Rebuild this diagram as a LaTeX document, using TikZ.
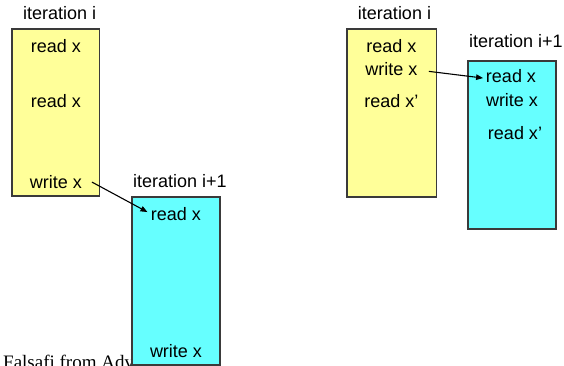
\documentclass[tikz,border=0pt]{standalone}
\usepackage{fontspec}
\setmainfont{Liberation Sans}
\newfontfamily\serifcredit{Liberation Serif}
\usetikzlibrary{arrows.meta}
\definecolor{iterA}{HTML}{FFFF99}
\definecolor{iterB}{HTML}{66FFFF}
\definecolor{boxline}{HTML}{3A3A3A}
\tikzset{
  lbl/.style={anchor=base, inner sep=0pt, font=\fontsize{18}{20}\selectfont},
  iterbox/.style={draw=boxline, line width=1.3pt},
  oldit/.style={iterbox, fill=iterA},
  newit/.style={iterbox, fill=iterB},
  dep/.style={line width=1.1pt, -{Triangle[length=7pt,width=5.5pt]}},
}
\begin{document}
\begin{tikzpicture}[x=1pt, y=-1pt]
\useasboundingbox (0,0) rectangle (564,366);
\clip (0,0) rectangle (564,366);

% credit line, running off the bottom edge and partly hidden behind the second box
\node[anchor=base west, inner sep=0pt, font=\serifcredit\fontsize{19}{21}\selectfont]
  (credit) at (3,368.5) {Falsafi from Adv};

% ---- left: dependence across distant statements ----
\node[lbl] (itL) at (59.7,20) {iteration i};
\draw[oldit] (12,29) rectangle (99.5,196);
\node[lbl] (lr1) at (56,53) {read x};
\node[lbl] (lr2) at (56,107.5) {read x};
\node[lbl] (lw1) at (56,188) {write x};

\node[lbl] (itL2) at (180,187) {iteration i+1};
\draw[newit] (132,197) rectangle (220,365);
\node[lbl] (lr3) at (176,220) {read x};
\node[lbl] (lw2) at (176,357) {write x};

\draw[dep] ([shift={(9.7,-3.3)}]lw1.mid east) -- ([shift={(-3.3,-5.3)}]lr3.mid west);

% ---- right: overlapping iterations ----
\node[lbl] (itR) at (394.5,20) {iteration i};
\draw[oldit] (347,29) rectangle (436.5,197);
\node[lbl] (rr1) at (391.3,53) {read x};
\node[lbl] (rw1) at (391.3,75.5) {write x};
\node[lbl] (rp1) at (391.3,108) {read x’};

\node[lbl] (itR2) at (516,48) {iteration i+1};
\draw[newit] (468,61) rectangle (556,229);
\node[lbl] (rr2) at (511,83) {read x};
\node[lbl] (rw2) at (512,107) {write x};
\node[lbl] (rp2) at (515,140) {read x’};

\draw[dep] ([shift={(11.3,-1.5)}]rw1.mid east) -- ([shift={(-2.7,-2.3)}]rr2.mid west);
\end{tikzpicture}
\end{document}
